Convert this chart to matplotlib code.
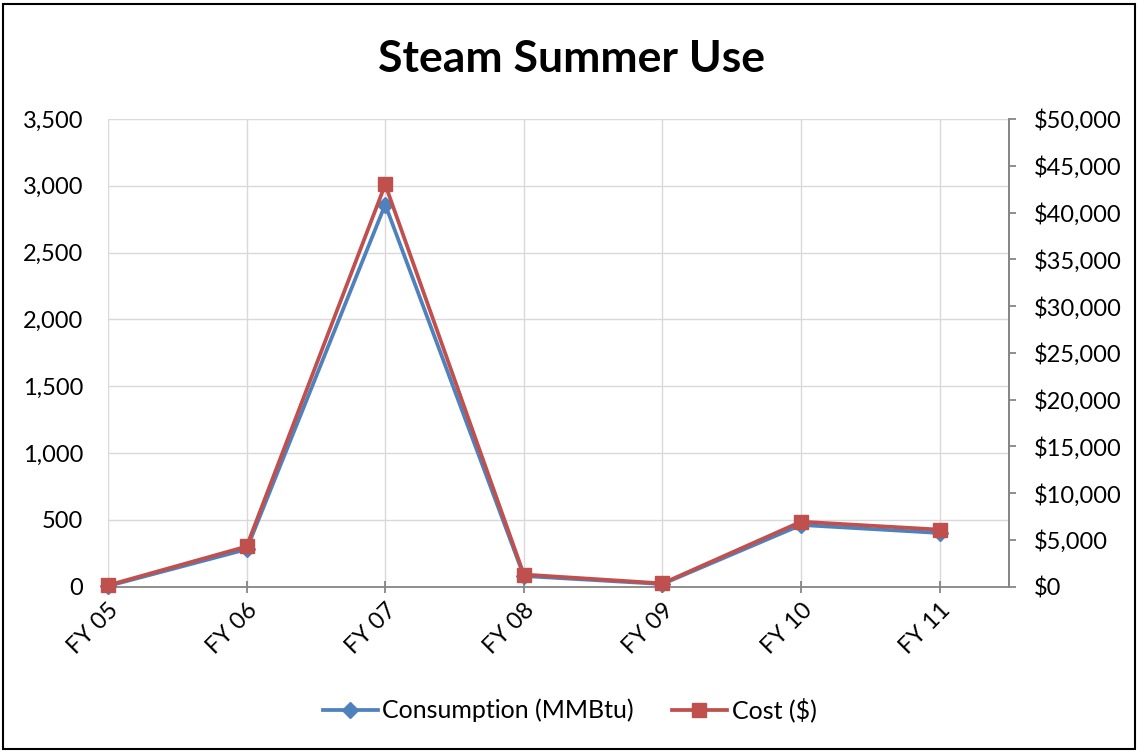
import numpy as np
import matplotlib.pyplot as plt
from matplotlib.patches import Rectangle
from matplotlib.ticker import FuncFormatter, MultipleLocator

plt.rcParams['font.family'] = ['Lato', 'DejaVu Sans']

years = ["FY 05", "FY 06", "FY 07", "FY 08", "FY 09", "FY 10", "FY 11"]
consumption = [5, 280, 2860, 80, 20, 462, 402]
cost = [150, 4300, 43000, 1300, 350, 6950, 6100]

blue = "#4F81BD"
red = "#C0504D"
axis_gray = "#868686"
grid_gray = "#D9D9D9"

fig = plt.figure(figsize=(11.39, 7.52), dpi=100)
ax = fig.add_axes([108 / 1139, 1 - 586.7 / 752, (1009 - 108) / 1139, (586.7 - 119) / 752])
ax2 = ax.twinx()

x = np.arange(len(years))
l1, = ax.plot(x, consumption, color=blue, lw=2.7, marker="D", ms=8,
              label="Consumption (MMBtu)", clip_on=False, zorder=3)
l2, = ax2.plot(x, cost, color=red, lw=2.7, marker="s", ms=10,
               label="Cost ($)", clip_on=False, zorder=3)

ax.set_xlim(0, 6.5)
ax.set_ylim(0, 3500)
ax2.set_ylim(0, 50000)
ax.yaxis.set_major_locator(MultipleLocator(500))
ax2.yaxis.set_major_locator(MultipleLocator(5000))
ax.yaxis.set_major_formatter(FuncFormatter(lambda v, p: f"{v:,.0f}"))
ax2.yaxis.set_major_formatter(FuncFormatter(lambda v, p: f"${v:,.0f}"))

ax.set_xticks(x)
ax.set_xticklabels(years, rotation=45, ha="right", rotation_mode="anchor")
ax.grid(True, color=grid_gray, lw=1)
ax.set_axisbelow(True)

for a in (ax, ax2):
    for s in ("top", "left"):
        a.spines[s].set_visible(False)
    a.spines["bottom"].set_color(axis_gray)
    a.spines["right"].set_color(axis_gray)
    a.spines["bottom"].set_linewidth(1.3)
    a.spines["right"].set_linewidth(1.3)
ax2.spines["bottom"].set_visible(False)

ax.tick_params(axis="y", length=0, pad=18, labelsize=17, labelcolor="black")
ax.tick_params(axis="x", direction="inout", length=9, color=axis_gray,
               width=1.3, pad=5, labelsize=17)
ax2.tick_params(axis="y", direction="out", length=5, color=axis_gray,
                width=1.3, pad=13, labelsize=17)

fig.text(572 / 1139, 1 - 59 / 752, "Steam Summer Use", ha="center", va="center",
         fontsize=32, fontweight="bold")

fig.legend(handles=[l1, l2], loc="center", bbox_to_anchor=(0.5, 1 - 710 / 752),
           ncol=2, frameon=False, fontsize=18, handlelength=2.2,
           handletextpad=0.2, columnspacing=1.5)

fig.add_artist(Rectangle((3 / 1139, 3 / 752), 1 - 7 / 1139, 1 - 7 / 752,
                         transform=fig.transFigure, fill=False,
                         edgecolor="black", lw=1.5))

fig.savefig("out.png", dpi=100)
